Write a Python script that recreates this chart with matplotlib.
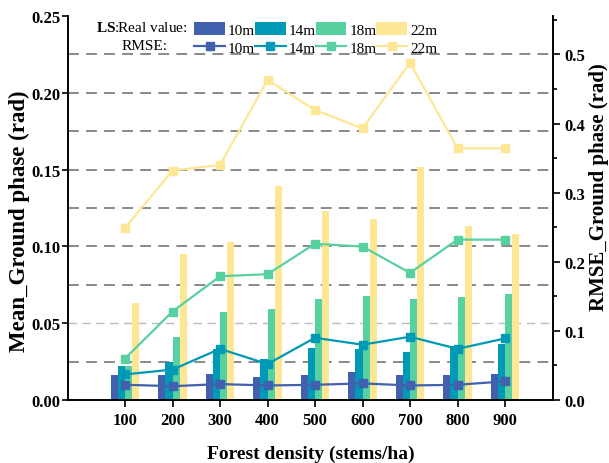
import numpy as np
import matplotlib
matplotlib.use('Agg')
import matplotlib.pyplot as plt
from matplotlib.ticker import MultipleLocator, FormatStrFormatter
from matplotlib.lines import Line2D
from matplotlib.patches import Patch

plt.rcParams['font.family'] = 'Liberation Serif'
plt.rcParams['mathtext.fontset'] = 'custom'
plt.rcParams['mathtext.rm'] = 'Liberation Serif'
plt.rcParams['mathtext.bf'] = 'Liberation Serif:bold'

# Dati
density = [100, 200, 300, 400, 500, 600, 700, 800, 900]
heights = ['10m', '14m', '18m', '22m']
colors = ['#4160AE', '#0099B6', '#57D1A0', '#FEE794']

# valori reali (asse sinistro)
real_10 = [0.016, 0.016, 0.017, 0.015, 0.016, 0.018, 0.016, 0.016, 0.017]
real_14 = [0.022, 0.0245, 0.033, 0.027, 0.034, 0.033, 0.031, 0.035, 0.0365]
real_18 = [0.022, 0.041, 0.057, 0.0595, 0.066, 0.068, 0.066, 0.067, 0.069]
real_22 = [0.063, 0.095, 0.103, 0.1395, 0.123, 0.118, 0.1515, 0.113, 0.108]

# RMSE (asse destro)
rmse_10 = [0.022, 0.020, 0.023, 0.021, 0.022, 0.024, 0.021, 0.022, 0.027]
rmse_14 = [0.037, 0.044, 0.074, 0.052, 0.090, 0.080, 0.0915, 0.074, 0.089]
rmse_18 = [0.060, 0.128, 0.179, 0.182, 0.226, 0.222, 0.184, 0.232, 0.232]
rmse_22 = [0.249, 0.332, 0.340, 0.463, 0.4195, 0.393, 0.488, 0.364, 0.364]

real = [real_10, real_14, real_18, real_22]
rmse = [rmse_10, rmse_14, rmse_18, rmse_22]

fig = plt.figure(figsize=(6.09, 4.64), dpi=100)
ax = fig.add_axes([0.1117, 0.1358, 0.7963, 0.8276])
ax2 = ax.twinx()

x = np.array(density)
w = 15
offsets = [-22.5, -7.5, 7.5, 22.5]

# linee tratteggiate di sfondo
for g in np.arange(0.025, 0.226, 0.025):
    if abs(g - 0.05) < 1e-6:
        ax.axhline(g, color='#BBBBBB', lw=1.0, ls=(0, (6, 4)), zorder=0)
    else:
        ax.axhline(g, color='#808080', lw=1.3, ls=(0, (6, 4)), zorder=0)

for i in range(4):
    ax.bar(x + offsets[i], real[i], width=w, color=colors[i], zorder=2)
    ax2.plot(x, rmse[i], color=colors[i], lw=1.6, marker='s', ms=6, zorder=3)

ax.set_xlim(-20, 1001)
ax.set_ylim(0, 0.25)
ax2.set_ylim(0, 0.25 / 0.45)

ax.set_xticks(density)
ax.set_xticklabels([str(d) for d in density])
ax.yaxis.set_major_locator(MultipleLocator(0.05))
ax.yaxis.set_major_formatter(FormatStrFormatter('%.2f'))
ax2.yaxis.set_major_locator(MultipleLocator(0.1))
ax2.yaxis.set_minor_locator(MultipleLocator(0.05))
ax2.yaxis.set_major_formatter(FormatStrFormatter('%.1f'))

for a in (ax, ax2):
    a.spines['top'].set_visible(False)
    for s in a.spines.values():
        s.set_linewidth(1.2)
    a.tick_params(direction='out', width=1.2, length=5, labelsize=12)
    for lab in a.get_xticklabels() + a.get_yticklabels():
        lab.set_fontweight('bold')
ax.tick_params(axis='y', length=4, pad=1.5)
ax2.tick_params(which='minor', direction='out', width=1.2, length=3)

ax.set_xlabel('Forest density (stems/ha)', fontsize=14, fontweight='bold', labelpad=12)
ax.set_ylabel('Mean_Ground phase (rad)', fontsize=16.5, fontweight='bold')
ax2.set_ylabel('RMSE_Ground phase (rad)', fontsize=15, fontweight='bold')
ax.yaxis.set_label_coords(-0.078, 0.469)
ax2.yaxis.set_label_coords(1.074, 0.556)

# legenda
handles = []
labels = []
for i in range(4):
    handles.append(Patch(facecolor=colors[i], edgecolor='none'))
    labels.append(heights[i])
    handles.append(Line2D([0], [0], color=colors[i], lw=1.6, marker='s', ms=6))
    labels.append(heights[i])
leg = ax.legend(handles, labels, ncol=4, frameon=False, fontsize=11,
                handlelength=2.0, handleheight=0.9, handletextpad=0.2,
                columnspacing=0.0, labelspacing=0.25,
                loc='upper left', bbox_to_anchor=(0.232, 1.02))
fig.text(187 / 609, 1 - 28 / 464, r'$\mathbf{LS}$:Real value:', ha='right', va='center', fontsize=11)
fig.text(145 / 609, 1 - 47 / 464, 'RMSE:', ha='center', va='center', fontsize=11)

fig.savefig('out.png', dpi=100)
